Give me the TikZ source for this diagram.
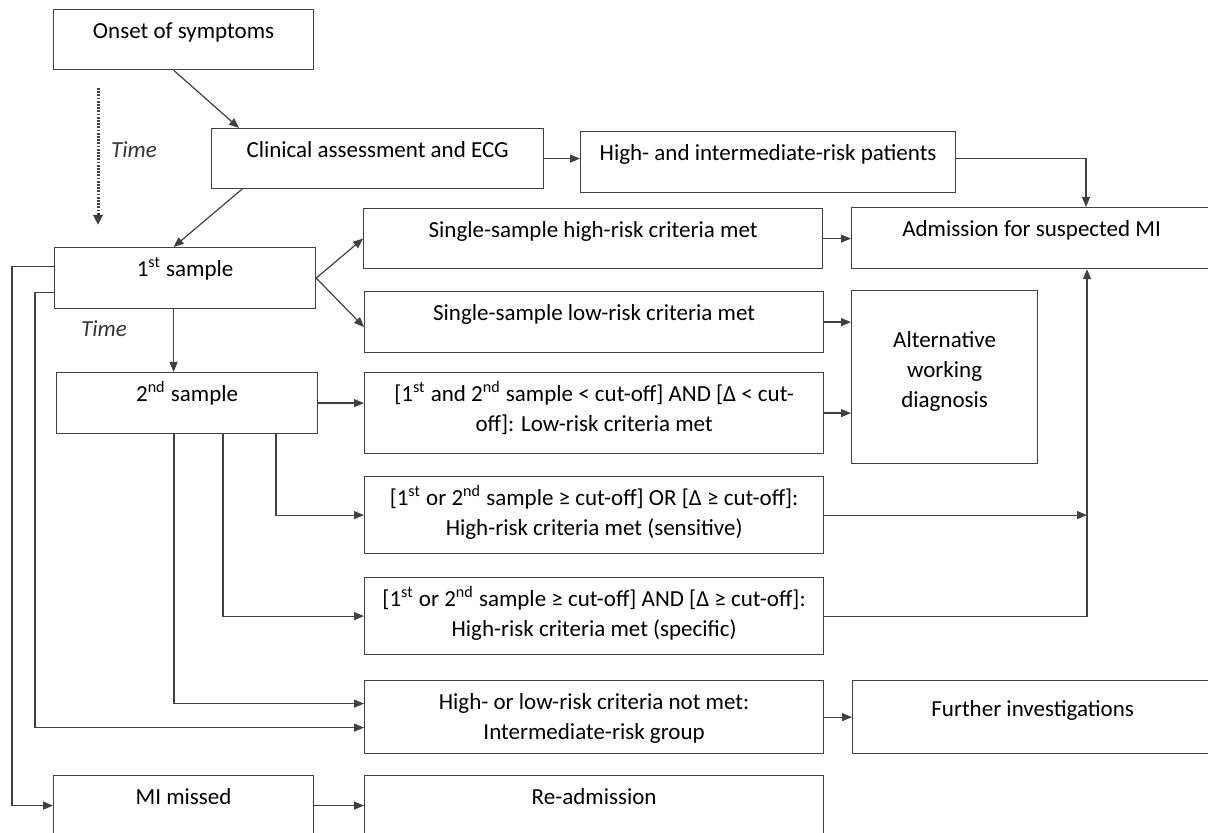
\documentclass[tikz,border=0pt]{standalone}
\usepackage{fontspec}
\setmainfont{Carlito}
\usepackage{tikz}
\usetikzlibrary{arrows.meta}

\begin{document}
\begin{tikzpicture}
[x=0.5pt, y=-0.5pt, font=\fontsize{11.5}{15}\selectfont,
    box/.style={rectangle, draw=black!75, line width=0.6pt, anchor=north west,
        inner xsep=2pt, inner ysep=0pt, align=flush center, text height=14.5pt},
    edge/.style={draw=black!75, line width=0.6pt, -{Triangle[length=5pt,width=4pt]}},
    timearr/.style={draw=black!75, line width=1.5pt, dash pattern=on 0.9pt off 0.7pt,
        -{Triangle[length=5pt,width=4.5pt]}},
    lbl/.style={font=\fontsize{11.5}{15}\selectfont\itshape, text=black!80}
    ]

    \useasboundingbox (0,0) rectangle (1208,833);
    \clip (0,0) rectangle (1208,833);

    % time axis
    \coordinate (t0) at (98,88);
    \coordinate (t1) at (98,225);
    \draw[timearr] (t0) -- (t1);
    \node[lbl] (time1) at (134,150) {Time};
    \node[lbl] (time2) at (104,329) {Time};

    % boxes
    \node[box, text width=126pt, text depth=15.5pt] (onset) at (53,9) {Onset of symptoms};
    \node[box, text width=162pt, text depth=15.5pt] (clin) at (211,128) {Clinical assessment and ECG};
    \node[box, text width=183.5pt, text depth=16pt] (hirisk) at (580,131) {High- and intermediate-risk patients};
    \node[box, text width=176pt, text depth=16pt] (adm) at (851,207) {Admission for suspected MI};
    \node[box, text width=89pt, text height=28.5pt, text depth=58pt] (alt) at (851,290)
        {Alternative\\working\\diagnosis};

    \node[box, text width=126.5pt, text depth=16pt] (s1) at (54,247) {1\textsuperscript{st} sample};
    \node[box, text width=126.5pt, text depth=16pt] (s2) at (56,372) {2\textsuperscript{nd} sample};

    \node[box, text width=225.5pt, text depth=15.5pt] (shigh) at (363,208) {Single-sample high-risk criteria met};
    \node[box, text width=225.5pt, text depth=16pt] (slow) at (364,291) {Single-sample low-risk criteria met};
    \node[box, text width=225.5pt, text depth=26pt] (lowrisk) at (364,372)
        {[1\textsuperscript{st} and 2\textsuperscript{nd} sample < cut-off] AND [Δ < cut-\\off]: Low-risk criteria met};
    \node[box, text width=225.5pt, text depth=24pt] (sens) at (364,476)
        {[1\textsuperscript{st} or 2\textsuperscript{nd} sample ≥ cut-off] OR [Δ ≥ cut-off]:\\High-risk criteria met (sensitive)};
    \node[box, text width=225.5pt, text depth=24pt] (spec) at (364,577)
        {[1\textsuperscript{st} or 2\textsuperscript{nd} sample ≥ cut-off] AND [Δ ≥ cut-off]:\\High-risk criteria met (specific)};
    \node[box, text width=225.5pt, text depth=22pt] (inter) at (364,680)
        {High- or low-risk criteria not met:\\Intermediate-risk group};
    \node[box, text width=176pt, text height=18pt, text depth=18.5pt] (further) at (852,680) {Further investigations};

    \node[box, text width=126pt, text depth=15.5pt] (missed) at (53,775) {MI missed};
    \node[box, text width=225.5pt, text depth=15.5pt] (readm) at (364,775) {Re-admission};

    % connectors
    \coordinate (bus) at ([xshift=118pt]adm.south west);
    \draw[edge] ([xshift=-5pt]onset.south) -- ([xshift=14pt]clin.north west);
    \draw[edge] ([xshift=15.5pt]clin.south west) -- ([xshift=-5.75pt]s1.north);
    \draw[edge] (clin.east) -- (clin.east -| hirisk.west);
    \draw[edge] ([yshift=1.75pt]hirisk.east) -| ([xshift=117.5pt]adm.north west);
    \draw[edge] (s1.east) -- (shigh.west);
    \draw[edge] (s1.east) -- ([yshift=-2.5pt]slow.west);
    \draw[edge] ([xshift=-5.75pt]s1.south) -- ([xshift=-5.75pt]s1.south |- s2.north);
    \draw[edge] (s2.east) -- (s2.east -| lowrisk.west);
    \draw[edge] ([xshift=110pt]s2.south west) |- (sens.west);
    \draw[edge] ([xshift=83.5pt]s2.south west) |- (spec.west);
    \draw[edge] ([xshift=59pt]s2.south west) |- ([yshift=6.75pt]inter.west);
    \draw[edge] ([yshift=5.75pt]s1.west) -- ++(-21pt,0) |- (missed.west);
    \draw[edge] ([yshift=-7.25pt]s1.west) -- ++(-9.5pt,0) |- ([yshift=-5.25pt]inter.west);
    \draw[edge] (shigh.east) -- (shigh.east -| adm.west);
    \draw[edge] (slow.east) -- (slow.east -| alt.west);
    \draw[edge] (lowrisk.east) -- (lowrisk.east -| alt.west);
    \draw[edge] (sens.east) -- (sens.east -| bus);
    \draw[edge] (spec.east) -| (bus);
    \draw[edge] (inter.east) -- (further.west);
    \draw[edge] (missed.east) -- (readm.west);
\end{tikzpicture}
\end{document}
